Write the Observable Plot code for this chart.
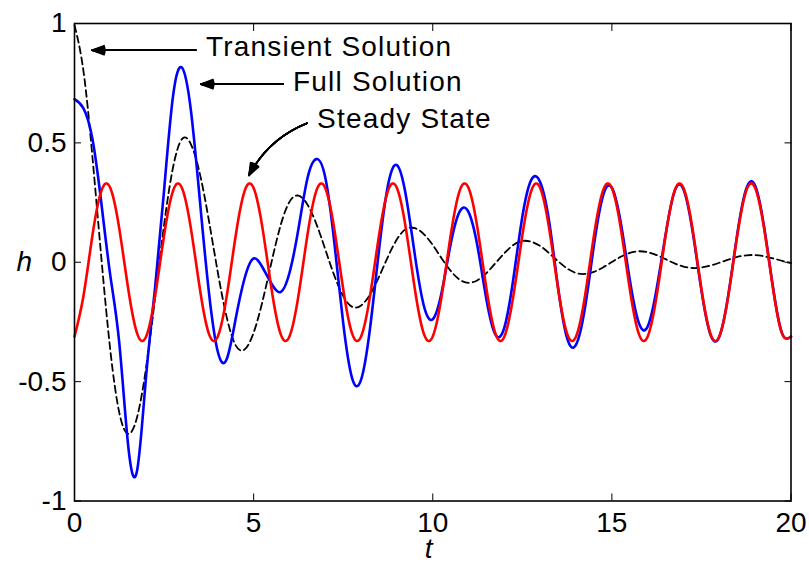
<!DOCTYPE html>
<html>
<head>
<meta charset="utf-8">
<script src="https://cdn.jsdelivr.net/npm/d3@7"></script>
<script src="https://cdn.jsdelivr.net/npm/@observablehq/plot@0.6"></script>
<style>
  html, body { margin: 0; padding: 0; background: #fff; }
  #chart svg { display: block; }
</style>
</head>
<body>
<div id="chart"></div>
<script>
// time samples
const tValues = [
  0, 0.25, 0.5, 0.75, 1, 1.25, 1.5, 1.75, 2, 2.25, 2.5, 2.75, 3, 3.25, 3.5, 3.75,
  4, 4.25, 4.5, 4.75, 5, 5.25, 5.5, 5.75, 6, 6.25, 6.5, 6.75, 7, 7.25, 7.5, 7.75,
  8, 8.25, 8.5, 8.75, 9, 9.25, 9.5, 9.75, 10, 10.25, 10.5, 10.75, 11, 11.25, 11.5, 11.75,
  12, 12.25, 12.5, 12.75, 13, 13.25, 13.5, 13.75, 14, 14.25, 14.5, 14.75, 15, 15.25, 15.5, 15.75,
  16, 16.25, 16.5, 16.75, 17, 17.25, 17.5, 17.75, 18, 18.25, 18.5, 18.75, 19, 19.25, 19.5, 19.75, 20
];

// black dashed: transient solution
const transientSolution = [
  0.993, 0.801, 0.442, 0.017, -0.369, -0.630, -0.719, -0.647, -0.440, -0.148, 0.156, 0.397, 0.516, 0.494, 0.370, 0.176,
  -0.042, -0.231, -0.348, -0.365, -0.295, -0.162, 0.001, 0.153, 0.253, 0.279, 0.242, 0.161, 0.054, -0.055, -0.142, -0.187,
  -0.181, -0.135, -0.061, 0.023, 0.096, 0.139, 0.143, 0.118, 0.072, 0.016, -0.036, -0.073, -0.086, -0.075, -0.045, -0.004,
  0.038, 0.072, 0.089, 0.086, 0.068, 0.038, 0.004, -0.026, -0.045, -0.049, -0.040, -0.022, 0.001, 0.023, 0.039, 0.046,
  0.042, 0.030, 0.013, -0.005, -0.018, -0.024, -0.022, -0.014, -0.002, 0.011, 0.022, 0.029, 0.030, 0.025, 0.016, 0.006, -0.004
];

// blue: full solution
const fullSolution = [
  0.683, 0.645, 0.517, 0.247, -0.056, -0.338, -0.770, -0.870, -0.475, -0.105, 0.300, 0.696, 0.815, 0.635, 0.258, -0.123,
  -0.375, -0.405, -0.236, -0.066, 0.016, -0.022, -0.090, -0.125, -0.045, 0.139, 0.350, 0.432, 0.355, 0.086, -0.254, -0.486,
  -0.492, -0.276, 0.051, 0.322, 0.407, 0.280, 0.031, -0.181, -0.239, -0.125, 0.076, 0.212, 0.210, 0.066, -0.157, -0.303,
  -0.273, -0.069, 0.190, 0.345, 0.335, 0.170, -0.108, -0.318, -0.345, -0.190, 0.072, 0.277, 0.312, 0.164, -0.073, -0.253,
  -0.269, -0.111, 0.116, 0.297, 0.305, 0.133, -0.118, -0.303, -0.311, -0.137, 0.118, 0.307, 0.320, 0.148, -0.107, -0.297, -0.312
];

// red: steady state
const steadyState = [
  -0.311, -0.141, 0.112, 0.299, 0.311, 0.141, -0.112, -0.299,
  -0.311, -0.141, 0.112, 0.299, 0.311, 0.141, -0.112, -0.299,
  -0.311, -0.141, 0.112, 0.299, 0.311, 0.141, -0.112, -0.299,
  -0.311, -0.141, 0.112, 0.299, 0.311, 0.141, -0.112, -0.299,
  -0.311, -0.141, 0.112, 0.299, 0.311, 0.141, -0.112, -0.299,
  -0.311, -0.141, 0.112, 0.299, 0.311, 0.141, -0.112, -0.299,
  -0.311, -0.141, 0.112, 0.299, 0.311, 0.141, -0.112, -0.299,
  -0.311, -0.141, 0.112, 0.299, 0.311, 0.141, -0.112, -0.299,
  -0.311, -0.141, 0.112, 0.299, 0.311, 0.141, -0.112, -0.299,
  -0.311, -0.141, 0.112, 0.299, 0.311, 0.141, -0.112, -0.299,
  -0.311
];

const xTicks = [0, 5, 10, 15, 20];
const xTickLabels = ["0", "5", "10", "15", "20"];
const yTicks = [-1, -0.5, 0, 0.5, 1];
const yTickLabels = ["-1", "-0.5", "0", "0.5", "1"];

const annotationLabels = ["Transient Solution", "Full Solution", "Steady State"];
const annotationTextT = [3.67, 6.10, 6.77];
const annotationTextH = [0.900, 0.754, 0.600];
const arrowFromT = [3.39, 5.82, 6.49];
const arrowFromH = [0.888, 0.746, 0.582];
const arrowToT = [0.49, 3.53, 4.87];
const arrowToH = [0.888, 0.746, 0.364];
const arrowCurved = [false, false, true];

const rowsOf = (values) => tValues.map((t, i) => ({t, h: values[i]}));
const annotations = annotationLabels.map((label, i) => ({
  label, tx: annotationTextT[i], ty: annotationTextH[i],
  x1: arrowFromT[i], y1: arrowFromH[i], x2: arrowToT[i], y2: arrowToH[i], curved: arrowCurved[i]
}));

const FONT = "Liberation Sans, Arimo, Roboto, sans-serif";
const FS = 28;

// several arrow heads of growing angle layered on each other give a filled head
const headAngles = [0, 7, 14, 21, 28, 35, 42];
const arrowMarks = [];
for (const a of headAngles) {
  arrowMarks.push(Plot.arrow(annotations.filter(d => !d.curved), {x1: "x1", y1: "y1", x2: "x2", y2: "y2", stroke: "#000", strokeWidth: 1.6, headLength: 12, headAngle: a}));
  arrowMarks.push(Plot.arrow(annotations.filter(d => d.curved), {x1: "x1", y1: "y1", x2: "x2", y2: "y2", stroke: "#000", strokeWidth: 1.6, headLength: 12, headAngle: a, bend: -20}));
}

const chart = Plot.plot({
  width: 809,
  height: 564,
  marginLeft: 74,
  marginRight: 18.5,
  marginTop: 23,
  marginBottom: 63.5,
  style: {fontFamily: FONT, fontSize: FS + "px", background: "#fff", color: "#000"},
  x: {domain: [0, 20], label: null},
  y: {domain: [-1, 1], label: null},
  marks: [
    Plot.line(rowsOf(transientSolution), {x: "t", y: "h", stroke: "#000", strokeWidth: 1.8, strokeDasharray: "7,4", curve: "natural"}),
    Plot.line(rowsOf(fullSolution), {x: "t", y: "h", stroke: "#0000ff", strokeWidth: 2.6, curve: "natural"}),
    Plot.line(rowsOf(steadyState), {x: "t", y: "h", stroke: "#ff0000", strokeWidth: 2.6, curve: "natural"}),
    Plot.frame({stroke: "#000", strokeWidth: 1.6}),
    Plot.axisX(xTicks, {anchor: "bottom", tickSize: -7, tickPadding: 18, tickFormat: (d) => xTickLabels[xTicks.indexOf(d)], fontSize: FS, fontFamily: FONT, label: null}),
    Plot.axisX(xTicks, {anchor: "top", tickSize: -7, tickFormat: () => "", label: null}),
    Plot.axisY(yTicks, {anchor: "left", tickSize: -7, tickPadding: 15, tickFormat: (d) => yTickLabels[yTicks.indexOf(d)], fontSize: FS, fontFamily: FONT, label: null}),
    Plot.axisY(yTicks, {anchor: "right", tickSize: -7, tickFormat: () => "", label: null}),
    Plot.text(["h"], {text: d => d, frameAnchor: "left", dx: -58, fontStyle: "italic", fontSize: FS, fontFamily: FONT, lineAnchor: "middle"}),
    Plot.text(["t"], {text: d => d, frameAnchor: "bottom", dx: -4, dy: 48, fontStyle: "italic", fontSize: FS, fontFamily: FONT, lineAnchor: "middle"}),
    ...arrowMarks,
    Plot.text(annotations, {x: "tx", y: "ty", text: "label", textAnchor: "start", lineAnchor: "middle", fontSize: FS, fontFamily: FONT})
  ]
});

d3.select(chart).selectAll("text")
  .filter(function () { return annotationLabels.includes(this.textContent); })
  .attr("letter-spacing", "1.2px")
  .style("letter-spacing", "1.2px");
document.getElementById("chart").appendChild(chart);
</script>
</body>
</html>
